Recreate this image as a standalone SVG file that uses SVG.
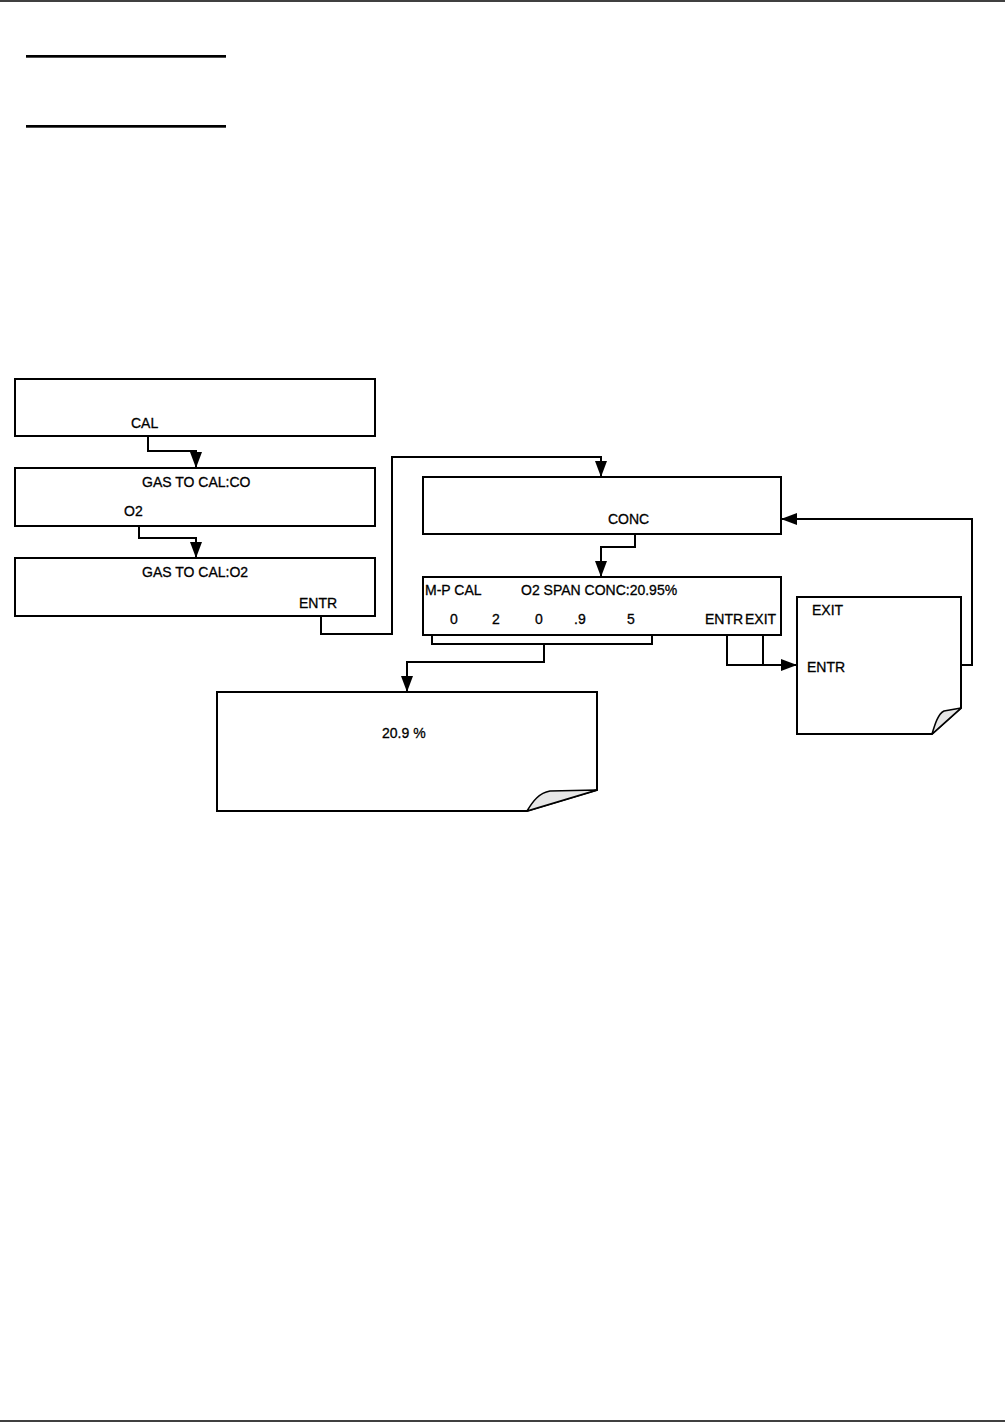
<svg xmlns="http://www.w3.org/2000/svg" width="1005" height="1422" viewBox="0 0 1005 1422">
<defs>
<style>
.box{fill:#fff;stroke:#000;stroke-width:2}
.curl{fill:#e6e6e6;stroke:#000;stroke-width:1.5;stroke-linejoin:round}
.con{fill:none;stroke:#000;stroke-width:2}
.t{font-family:"Liberation Sans",Arial,sans-serif;font-size:14px;fill:#000;stroke:#000;stroke-width:0.3}
</style>
<marker id="ah" markerUnits="userSpaceOnUse" markerWidth="16" markerHeight="12" refX="16" refY="6" orient="auto">
<path d="M0,0 L16,6 L0,12 Z" fill="#000"/>
</marker>
</defs>
<rect width="1005" height="1422" fill="#fff"/>
<line x1="0" y1="1" x2="1005" y2="1" stroke="#000" stroke-width="1.5"/>
<line x1="0" y1="1421" x2="1005" y2="1421" stroke="#000" stroke-width="1.5"/>
<rect x="26" y="55" width="200" height="2.7" fill="#000"/>
<rect x="26" y="125" width="200" height="2.7" fill="#000"/>

<g id="connectors">
<polyline class="con" points="148,437 148,451 196,451 196,468" marker-end="url(#ah)"/>
<polyline class="con" points="139,526 139,538 196,538 196,558" marker-end="url(#ah)"/>
<polyline class="con" points="321,616 321,634 392,634 392,457 601,457 601,477" marker-end="url(#ah)"/>
<polyline class="con" points="635,534 635,547 601,547 601,577" marker-end="url(#ah)"/>
<polyline class="con" points="432,617 432,644 652,644 652,611"/>
<polyline class="con" points="544,644 544,662 407,662 407,692" marker-end="url(#ah)"/>
<polyline class="con" points="727,635 727,665 797,665" marker-end="url(#ah)"/>
<polyline class="con" points="763,635 763,665"/>
<polyline class="con" points="961,665 972,665 972,519 781,519" marker-end="url(#ah)"/>
</g>

<g id="node-main">
<rect class="box" x="15" y="379" width="360" height="57"/>
<text class="t" x="131" y="428">CAL</text>
</g>
<g id="node-gas-co">
<rect class="box" x="15" y="468" width="360" height="58"/>
<text class="t" x="142" y="487">GAS TO CAL:CO</text>
<text class="t" x="124" y="516">O2</text>
</g>
<g id="node-gas-o2">
<rect class="box" x="15" y="558" width="360" height="58"/>
<text class="t" x="142" y="577">GAS TO CAL:O2</text>
<text class="t" x="299" y="608">ENTR</text>
</g>
<g id="node-conc">
<rect class="box" x="423" y="477" width="358" height="57"/>
<text class="t" x="608" y="524">CONC</text>
</g>
<g id="node-span">
<rect class="box" x="423" y="577" width="358" height="58"/>
<text class="t" x="425" y="595">M-P CAL</text>
<text class="t" x="521" y="595">O2 SPAN CONC:20.95%</text>
<text class="t" x="450" y="624">0</text>
<text class="t" x="492" y="624">2</text>
<text class="t" x="535" y="624">0</text>
<text class="t" x="574" y="624">.9</text>
<text class="t" x="627" y="624">5</text>
<text class="t" x="705" y="624">ENTR</text>
<text class="t" x="745" y="624">EXIT</text>
</g>
<g id="node-note-value">
<path class="box" d="M217,692 H597 V790 L527,811 H217 Z"/>
<path class="curl" d="M527,811 C533,801 539,793 550,791 L597,790 Z"/>
<text class="t" x="382" y="738">20.9 %</text>
</g>
<g id="node-note-exit">
<path class="box" d="M797,597 H961 V708 L932,734 H797 Z"/>
<path class="curl" d="M932,734 C935,724 938,714 944,711 L961,708 Z"/>
<text class="t" x="812" y="615">EXIT</text>
<text class="t" x="807" y="672">ENTR</text>
</g>
</svg>
